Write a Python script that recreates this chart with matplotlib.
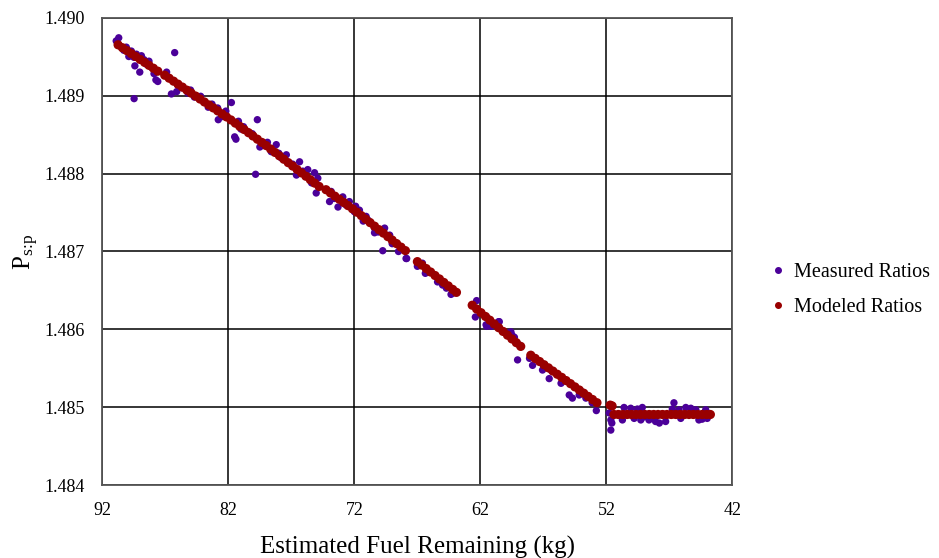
import matplotlib.pyplot as plt
from matplotlib.lines import Line2D

plt.rcParams['font.family'] = ['Liberation Serif', 'DejaVu Serif']

# modeled ratios (kg, ratio)
mod_x = [90.75, 90.4, 90.05, 89.7, 89.35, 89.0, 88.65, 88.3, 87.95, 87.6,
         87.05, 86.7, 86.35, 86.0, 85.65, 85.3, 84.95, 84.6, 84.25, 83.9,
         83.55, 83.2, 82.85, 82.5, 82.15, 81.8, 81.45, 81.1, 80.75, 80.4,
         80.05, 79.7, 79.35, 79.0, 78.65, 78.3, 77.95, 77.6, 77.25, 76.9,
         76.55, 76.2, 75.85, 75.5, 75.15, 74.8,
         74.25, 73.9, 73.55, 73.2, 72.85, 72.5, 72.15, 71.8, 71.45, 71.1,
         70.75, 70.4, 70.05, 69.7, 69.35, 69.0, 68.65, 68.3, 67.95,
         67.0, 66.65, 66.3, 65.95, 65.6, 65.25, 64.9, 64.55, 64.2, 63.9,
         62.65, 62.3, 61.95, 61.6, 61.25, 60.9, 60.55, 60.2, 59.85, 59.5,
         59.15, 58.8,
         58.0, 57.65, 57.3, 56.95, 56.6, 56.25, 55.9, 55.55, 55.2, 54.85,
         54.5, 54.15, 53.8, 53.45, 53.1, 52.75,
         51.7, 51.55, 51.4, 51.05, 50.7, 50.35, 50.0, 49.65, 49.3, 48.95,
         48.6, 48.25, 47.9, 47.55, 47.2, 46.85, 46.5, 46.15, 45.8, 45.45,
         45.1, 44.75, 44.4, 44.05, 43.75]
mod_y = [1.489650, 1.489612, 1.489575, 1.489537, 1.489500, 1.489462, 1.489425, 1.489387, 1.489350, 1.489312,
         1.489260, 1.489222, 1.489184, 1.489146, 1.489108, 1.489069, 1.489031, 1.488993, 1.488955, 1.488917,
         1.488879, 1.488841, 1.488803, 1.488764, 1.488726, 1.488687, 1.488646, 1.488605, 1.488564, 1.488523,
         1.488481, 1.488440, 1.488399, 1.488358, 1.488314, 1.488270, 1.488227, 1.488183, 1.488139, 1.488096,
         1.488052, 1.488008, 1.487965, 1.487921, 1.487877, 1.487834,
         1.487792, 1.487751, 1.487710, 1.487670, 1.487629, 1.487588, 1.487547, 1.487504, 1.487460, 1.487415,
         1.487370, 1.487325, 1.487280, 1.487236, 1.487191, 1.487146, 1.487101, 1.487056, 1.487011,
         1.486870, 1.486826, 1.486781, 1.486737, 1.486692, 1.486648, 1.486603, 1.486559, 1.486514, 1.486476,
         1.486311, 1.486263, 1.486215, 1.486167, 1.486119, 1.486071, 1.486023, 1.485975, 1.485927, 1.485879,
         1.485831, 1.485783,
         1.485670, 1.485629, 1.485589, 1.485548, 1.485508, 1.485467, 1.485426, 1.485386, 1.485345, 1.485305,
         1.485264, 1.485224, 1.485183, 1.485142, 1.485102, 1.485061,
         1.485030, 1.485020, 1.484910, 1.484910, 1.484910, 1.484910, 1.484910, 1.484910, 1.484910, 1.484910,
         1.484910, 1.484910, 1.484910, 1.484910, 1.484910, 1.484910, 1.484910, 1.484910, 1.484910, 1.484910,
         1.484910, 1.484910, 1.484910, 1.484910, 1.484910]

# measured ratios (kg, ratio)
meas_x = [90.9, 90.7, 90.55, 90.3, 90.1, 89.9, 89.7, 89.5, 89.42, 89.03,
          89.48, 89.3, 89.1, 88.9, 88.7, 88.5, 88.3, 88.1, 87.9, 87.75, 87.6,
          86.9, 86.52, 86.26, 86.0, 85.7, 86.1, 85.2, 84.4, 83.9, 82.85,
          82.8, 81.76, 81.5, 81.4, 80.5, 79.7, 79.5, 79.84, 79.3, 78.2,
          77.8, 77.4, 77.14, 76.6, 76.35, 75.7, 75.16, 74.9, 75.03,
          85.0, 84.7, 84.2, 83.6, 83.3, 82.5, 82.2, 81.2, 81.0, 80.8,
          80.1, 78.9, 78.6, 78.0, 76.9, 76.1, 75.4,
          73.97, 73.3, 73.84, 72.92, 72.4, 72.0, 71.6, 71.07, 70.4, 70.4,
          69.6, 69.2, 68.7, 68.3, 69.75, 67.9, 73.6, 72.7, 71.9, 71.3,
          70.9, 70.1, 69.0, 68.5, 68.1,
          67.85, 67.0, 66.37, 66.6, 65.4, 65.0, 64.7, 64.33, 64.07,
          62.3, 62.4, 61.5, 60.56, 59.71, 59.3, 59.05, 61.45, 59.5, 58.9,
          61.55, 61.16, 60.5, 59.58, 59.57,
          58.1, 57.86, 57.07, 56.54, 56.4, 55.6, 54.95, 54.7, 53.93, 53.63,
          53.13, 52.8, 54.16,
          51.78, 51.65, 51.65, 51.57, 50.6, 50.73, 50.07, 49.54, 49.15, 49.0,
          48.62, 48.1, 47.8, 47.3, 46.64, 46.77, 46.24, 45.7, 45.3, 44.9,
          44.66, 44.4, 44.0, 44.12, 46.1, 49.27, 49.8, 48.36]
meas_y = [1.48970, 1.48974, 1.48963, 1.48958, 1.48962, 1.48950, 1.48957, 1.48949, 1.48938, 1.48930,
          1.48896, 1.48953, 1.48948, 1.48951, 1.48946, 1.48940, 1.48944, 1.48936, 1.48928, 1.48920, 1.48918,
          1.48930, 1.48902, 1.48955, 1.48913, 1.48910, 1.48905, 1.48903, 1.48898, 1.48892, 1.48884,
          1.48869, 1.48891, 1.48847, 1.48844, 1.48854, 1.48869, 1.48834, 1.48799, 1.48837, 1.48837,
          1.48820, 1.48824, 1.48813, 1.48798, 1.48815, 1.48805, 1.48801, 1.48794, 1.48775,
          1.48907, 1.48898, 1.48899, 1.48885, 1.48889, 1.48873, 1.48880, 1.48867, 1.48857, 1.48860,
          1.48851, 1.48840, 1.48828, 1.48826, 1.48812, 1.48803, 1.48788,
          1.48764, 1.48757, 1.48777, 1.48770, 1.48764, 1.48751, 1.48753, 1.48745, 1.48724, 1.48730,
          1.48730, 1.48721, 1.48711, 1.48706, 1.48701, 1.48691, 1.48768, 1.48760, 1.48758, 1.48739,
          1.48740, 1.48725, 1.48710, 1.48700, 1.48702,
          1.48691, 1.48681, 1.48672, 1.48685, 1.48661, 1.48657, 1.48653, 1.48645, 1.48647,
          1.48637, 1.48616, 1.48604, 1.48610, 1.48596, 1.48590, 1.48561, 1.48615, 1.48593, 1.48580,
          1.48606, 1.48604, 1.48610, 1.48597, 1.48589,
          1.48563, 1.48554, 1.48548, 1.48537, 1.48548, 1.48531, 1.48516, 1.48512, 1.48520, 1.48512,
          1.48506, 1.48496, 1.48516,
          1.48493, 1.48484, 1.48471, 1.48480, 1.48500, 1.48484, 1.48499, 1.48498, 1.48500, 1.48488,
          1.48484, 1.48482, 1.48480, 1.48482, 1.48506, 1.48498, 1.48497, 1.48500, 1.48499, 1.48497,
          1.48484, 1.48485, 1.48486, 1.48497, 1.48486, 1.48484, 1.48486, 1.48487]

x_ticks = [92, 82, 72, 62, 52, 42]
y_ticks = [1.484, 1.485, 1.486, 1.487, 1.488, 1.489, 1.490]

purple = '#4b0099'
red = '#990000'

fig = plt.figure(figsize=(9.39, 5.58), dpi=100)
ax = fig.add_axes([0.109, 0.130, 0.671, 0.8386])

ax.scatter(meas_x, meas_y, s=28, color=purple, edgecolors='none', zorder=3)
ax.scatter(mod_x, mod_y, s=44, color=red, edgecolors='none', zorder=4)

ax.set_xlim(92, 42)
ax.set_ylim(1.484, 1.490)
ax.set_xticks(x_ticks)
ax.set_xticklabels([str(t) for t in x_ticks])
ax.set_yticks(y_ticks)
ax.set_yticklabels(['%.3f' % t for t in y_ticks])
ax.tick_params(length=0, labelsize=13)
ax.tick_params(axis='y', pad=13)
ax.tick_params(axis='x', pad=12)
ax.grid(True, color='black', linewidth=1.1)
ax.set_axisbelow(True)
for sp in ax.spines.values():
    sp.set_color('#555555')
    sp.set_linewidth(1.3)

ax.set_xlabel('Estimated Fuel Remaining (kg)', fontsize=18, labelpad=12)
ax.set_ylabel(r'$\mathregular{P_{s\!:\!p}}$', fontsize=18, labelpad=2)

handles = [Line2D([], [], marker='o', linestyle='none', color=purple, markersize=4),
           Line2D([], [], marker='o', linestyle='none', color=red, markersize=4)]
ax.legend(handles, ['Measured Ratios', 'Modeled Ratios'], loc='center left',
          bbox_to_anchor=(0.814, 0.48), bbox_transform=fig.transFigure,
          frameon=False, fontsize=14.5, borderaxespad=0,
          handlelength=0.6, handletextpad=0.45, labelspacing=0.8)

plt.savefig('out.png', dpi=100)
